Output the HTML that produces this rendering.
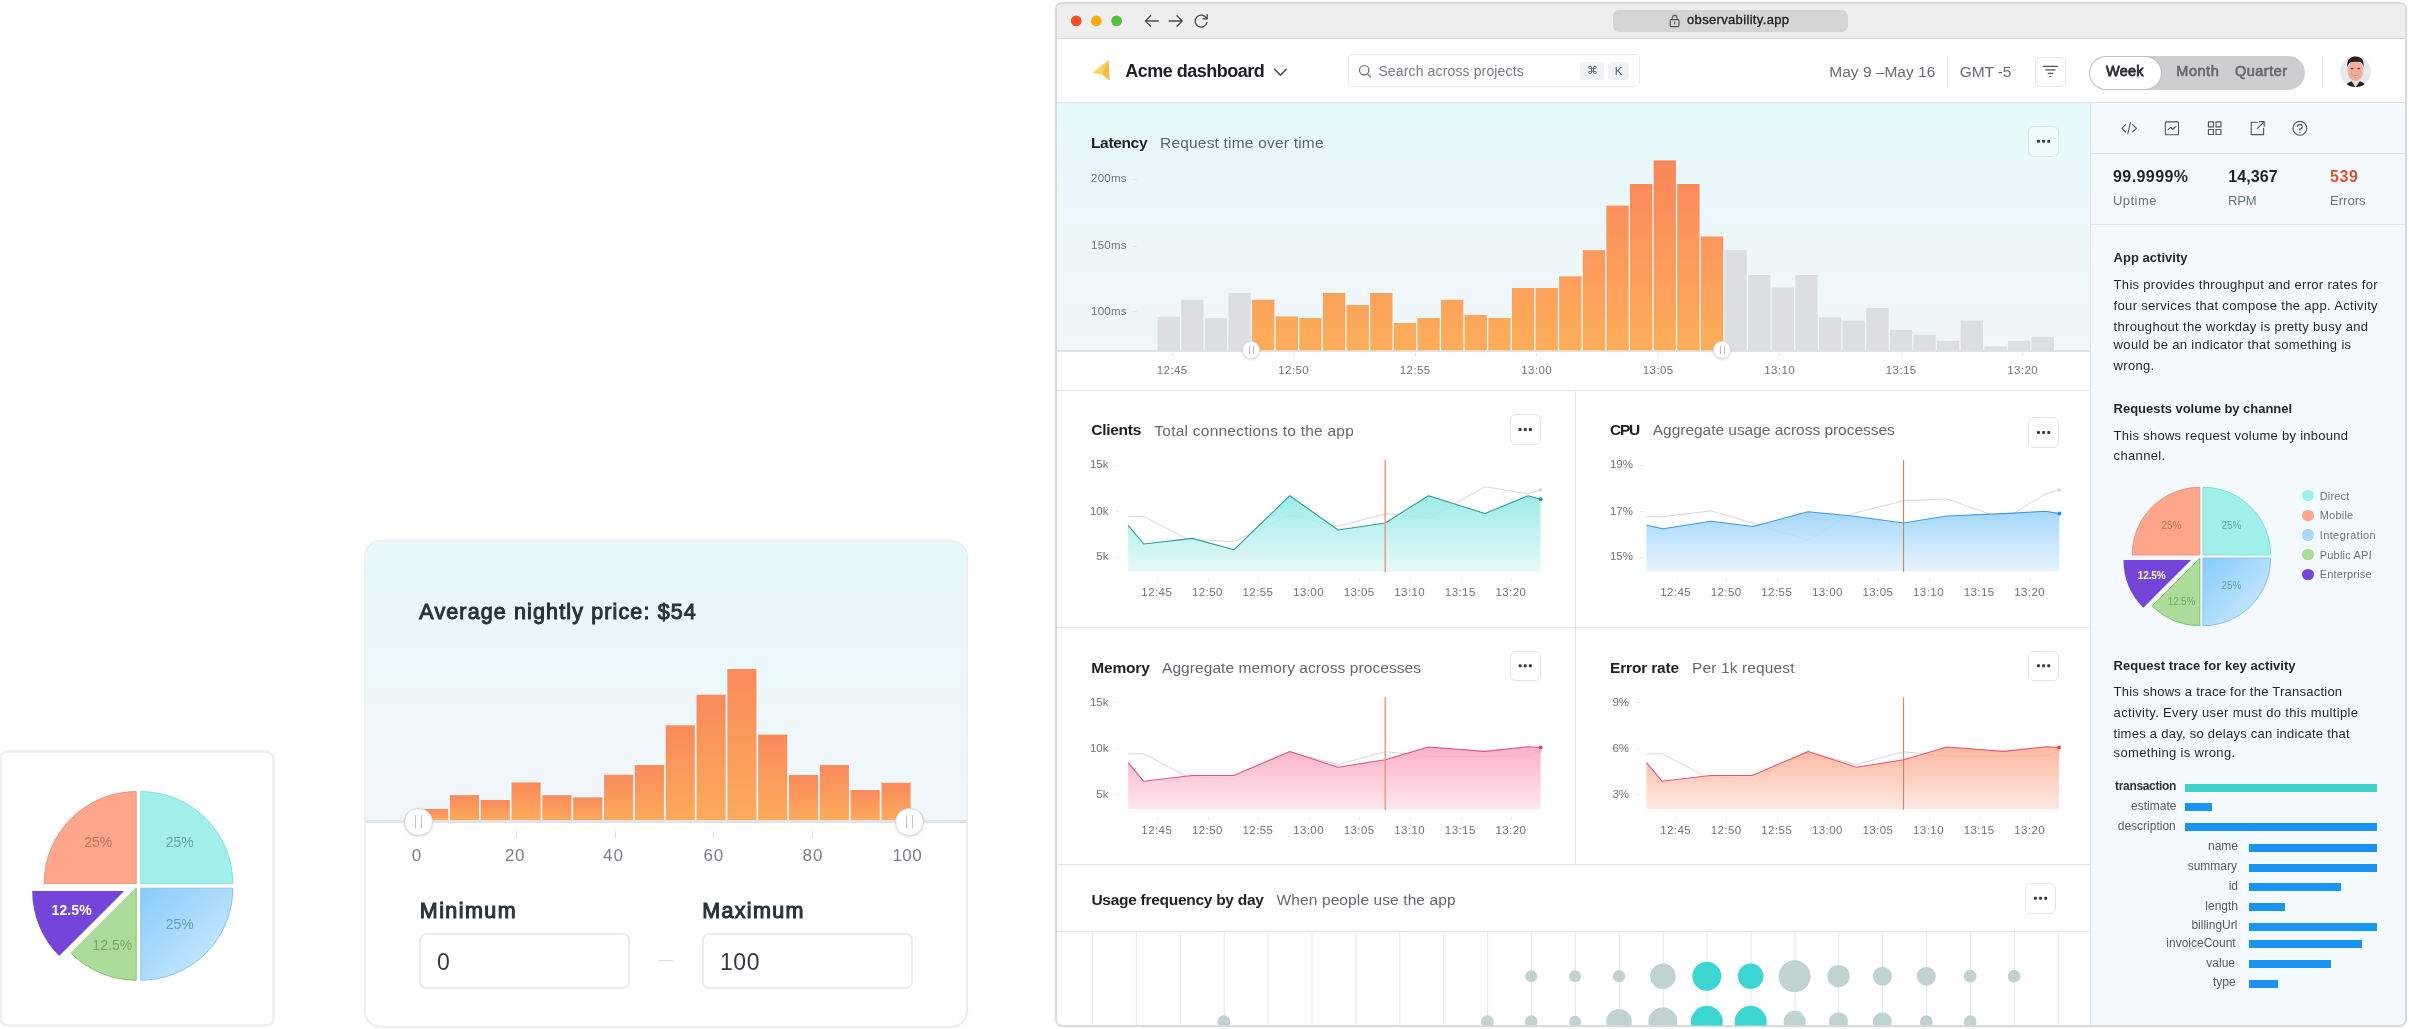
<!DOCTYPE html>
<html lang="en"><head><meta charset="utf-8"><title>Observability dashboard</title>
<style>
html,body{margin:0;padding:0;background:#fff;}
body{width:2409px;height:1029px;position:relative;overflow:hidden;font-family:"Liberation Sans",sans-serif;}
#root{position:absolute;left:0;top:0;width:2409px;height:1029px;will-change:transform;}
.t{position:absolute;white-space:nowrap;}
.b{position:absolute;box-sizing:border-box;}
svg{position:absolute;left:0;top:0;overflow:visible;}
</style></head><body><div id="root">
<div class="b" style="left:-1.00px;top:750.00px;width:276.00px;height:276.50px;border:3px solid #f0f0f0;border-radius:9px;background:#fff;"></div>
<svg width="2409" height="1029" viewBox="0 0 2409 1029">
<defs><linearGradient id="p1bl" x1="0" y1="0" x2="1" y2="1"><stop offset="0" stop-color="#86ccfb"/><stop offset="1" stop-color="#d6edfd"/></linearGradient></defs>
<path d="M136.20,883.60 L44.20,883.60 A92,92 0 0 1 136.20,791.60 Z" fill="#fda68b" stroke="#ea957b" stroke-width="1"/>
<path d="M140.80,883.60 L140.80,791.60 A92,92 0 0 1 232.80,883.60 Z" fill="#a1efea" stroke="#86ded8" stroke-width="1"/>
<path d="M140.80,888.20 L232.80,888.20 A92,92 0 0 1 140.80,980.20 Z" fill="url(#p1bl)" stroke="#86c3ec" stroke-width="1"/>
<path d="M136.20,888.20 L136.20,980.20 A92,92 0 0 1 71.15,953.25 Z" fill="#acdc9a" stroke="#83c56e" stroke-width="1"/>
<path d="M124.20,891.00 L59.15,956.05 A92,92 0 0 1 32.20,891.00 Z" fill="#7445d8"/>
</svg>
<div class="t" style="left:84.29px;top:834px;font-size:14px;line-height:16px;color:#c5745d;">25%</div>
<div class="t" style="left:165.69px;top:834px;font-size:14px;line-height:16px;color:#5fa9a7;">25%</div>
<div class="t" style="left:165.69px;top:916px;font-size:14px;line-height:16px;color:#6b9cbb;">25%</div>
<div class="t" style="left:51.60px;top:902px;font-size:14px;line-height:16px;font-weight:700;color:#ffffff;letter-spacing:0.076px;">12.5%</div>
<div class="t" style="left:92.30px;top:937px;font-size:14px;line-height:16px;color:#79a866;letter-spacing:0.076px;">12.5%</div>
<div class="b" style="left:364.00px;top:540.00px;width:604.00px;height:487.50px;border:2px solid #eeeeee;border-radius:17px;background:#fff;overflow:hidden;box-shadow:0 0 2px rgba(0,0,0,.05);"></div>
<div class="b" style="left:366.00px;top:542.00px;width:600.00px;height:279.00px;border-radius:15px 15px 0 0;background:linear-gradient(180deg,#e6f9fc 0%,#ecf8fb 40%,#f1f6f9 100%);"></div>
<svg width="2409" height="1029" viewBox="0 0 2409 1029"><defs><linearGradient id="og" x1="0" y1="0" x2="0" y2="1"><stop offset="0" stop-color="#f98a5c"/><stop offset="1" stop-color="#fdab5b"/></linearGradient><linearGradient id="og2" gradientUnits="userSpaceOnUse" x1="0" y1="660" x2="0" y2="822"><stop offset="0" stop-color="#f98a5e"/><stop offset="1" stop-color="#fdac5c"/></linearGradient></defs>
<rect x="419.05" y="809.00" width="29.08" height="12.00" fill="url(#og)"/>
<rect x="449.88" y="795.20" width="29.08" height="25.80" fill="url(#og)"/>
<rect x="480.71" y="800.00" width="29.08" height="21.00" fill="url(#og)"/>
<rect x="511.54" y="782.50" width="29.08" height="38.50" fill="url(#og)"/>
<rect x="542.37" y="795.20" width="29.08" height="25.80" fill="url(#og)"/>
<rect x="573.20" y="797.40" width="29.08" height="23.60" fill="url(#og)"/>
<rect x="604.03" y="774.80" width="29.08" height="46.20" fill="url(#og)"/>
<rect x="634.86" y="765.10" width="29.08" height="55.90" fill="url(#og)"/>
<rect x="665.69" y="725.30" width="29.08" height="95.70" fill="url(#og)"/>
<rect x="696.52" y="694.70" width="29.08" height="126.30" fill="url(#og)"/>
<rect x="727.35" y="669.00" width="29.08" height="152.00" fill="url(#og)"/>
<rect x="758.18" y="734.60" width="29.08" height="86.40" fill="url(#og)"/>
<rect x="789.01" y="775.00" width="29.08" height="46.00" fill="url(#og)"/>
<rect x="819.84" y="765.10" width="29.08" height="55.90" fill="url(#og)"/>
<rect x="850.67" y="790.00" width="29.08" height="31.00" fill="url(#og)"/>
<rect x="881.50" y="782.80" width="29.08" height="38.20" fill="url(#og)"/>
</svg>
<div class="b" style="left:366.00px;top:820.00px;width:600.00px;height:3.00px;background:#e1e4e7;"></div>
<div class="b" style="left:515.90px;top:831.00px;width:1.20px;height:7.00px;background:#dcdfe2;"></div>
<div class="b" style="left:614.80px;top:831.00px;width:1.20px;height:7.00px;background:#dcdfe2;"></div>
<div class="b" style="left:713.10px;top:831.00px;width:1.20px;height:7.00px;background:#dcdfe2;"></div>
<div class="b" style="left:812.10px;top:831.00px;width:1.20px;height:7.00px;background:#dcdfe2;"></div>
<div class="t" style="left:411.67px;top:846px;font-size:17px;line-height:19px;color:#7b8084;">0</div>
<div class="t" style="left:504.90px;top:846px;font-size:17px;line-height:19px;color:#7b8084;letter-spacing:0.690px;">20</div>
<div class="t" style="left:603.10px;top:846px;font-size:17px;line-height:19px;color:#7b8084;letter-spacing:0.890px;">40</div>
<div class="t" style="left:703.50px;top:846px;font-size:17px;line-height:19px;color:#7b8084;letter-spacing:0.890px;">60</div>
<div class="t" style="left:802.60px;top:846px;font-size:17px;line-height:19px;color:#7b8084;letter-spacing:0.890px;">80</div>
<div class="t" style="left:892.40px;top:846px;font-size:17px;line-height:19px;color:#7b8084;letter-spacing:0.418px;">100</div>
<div class="b" style="left:404.30px;top:807.50px;width:28.40px;height:28.40px;border-radius:50%;background:#fff;border:1.4px solid #d4d7d9;box-shadow:0 1px 3px rgba(0,0,0,.12);"></div>
<div class="b" style="left:415.10px;top:815.40px;width:1.40px;height:12.60px;background:#bfc3c6;"></div>
<div class="b" style="left:420.50px;top:815.40px;width:1.40px;height:12.60px;background:#bfc3c6;"></div>
<div class="b" style="left:895.30px;top:807.50px;width:28.40px;height:28.40px;border-radius:50%;background:#fff;border:1.4px solid #d4d7d9;box-shadow:0 1px 3px rgba(0,0,0,.12);"></div>
<div class="b" style="left:906.10px;top:815.40px;width:1.40px;height:12.60px;background:#bfc3c6;"></div>
<div class="b" style="left:911.50px;top:815.40px;width:1.40px;height:12.60px;background:#bfc3c6;"></div>
<div class="t" style="left:419.30px;top:600px;font-size:21.5px;line-height:24px;-webkit-text-stroke:1.0px #27343b;color:#27343b;letter-spacing:1.132px;">Average nightly price: $54</div>
<div class="t" style="left:419.80px;top:899px;font-size:21.5px;line-height:24px;-webkit-text-stroke:1.05px #27343b;color:#27343b;letter-spacing:1.433px;">Minimum</div>
<div class="t" style="left:702.20px;top:899px;font-size:21.5px;line-height:24px;-webkit-text-stroke:1.05px #27343b;color:#27343b;letter-spacing:1.338px;">Maximum</div>
<div class="b" style="left:419.20px;top:933.00px;width:211.30px;height:56.00px;border:2px solid #ebebeb;border-radius:7px;background:#fff;"></div>
<div class="b" style="left:702.00px;top:933.00px;width:210.60px;height:56.00px;border:2px solid #ebebeb;border-radius:7px;background:#fff;"></div>
<div class="t" style="left:437.10px;top:949px;font-size:23px;line-height:26px;color:#333a3f;">0</div>
<div class="t" style="left:720.00px;top:949px;font-size:23px;line-height:26px;color:#333a3f;letter-spacing:0.562px;">100</div>
<div class="b" style="left:658.00px;top:959.60px;width:15.00px;height:1.40px;background:#dedede;"></div>
<div class="b" id="win" style="left:1055px;top:2px;width:1352px;height:1025px;border:2px solid #d8dadb;border-radius:7px 7px 8px 8px;background:linear-gradient(180deg,#eee 0,#eee 30px,#fff 30px);overflow:hidden;box-shadow:0 0 2px rgba(0,0,0,.08);"></div>
<div class="b" style="left:1057.00px;top:4.00px;width:1348.00px;height:34.50px;background:#eeeeee;border-radius:5px 5px 0 0;border-bottom:1px solid #d4d4d4;"></div>
<svg width="2409" height="1029" viewBox="0 0 2409 1029"><circle cx="1076.2" cy="20.9" r="5.35" fill="#f4511e"/><circle cx="1096.3" cy="20.9" r="5.35" fill="#ffab0f"/><circle cx="1116.6" cy="20.9" r="5.35" fill="#5cbf3a"/></svg>
<svg width="2409" height="1029" viewBox="0 0 2409 1029" fill="none" stroke="#4a4a4a" stroke-width="1.35" stroke-linecap="round" stroke-linejoin="round">
<path d="M1158.3,21 H1145.4 M1150.6,15.8 L1145.4,21 L1150.6,26.2"/>
<path d="M1169.2,21 H1182.2 M1177,15.8 L1182.2,21 L1177,26.2"/>
<path d="M1206.6,18.6 A6,6 0 1 0 1207,22.4"/>
<path d="M1207.2,14.6 V18.9 H1202.9" />
</svg>
<div class="b" style="left:1613.00px;top:10.00px;width:235.00px;height:22.00px;background:#d5d5d5;border-radius:6px;"></div>
<svg width="2409" height="1029" viewBox="0 0 2409 1029" fill="none" stroke="#555" stroke-width="1.1" stroke-linejoin="round">
<rect x="1670.2" y="19.6" width="8.8" height="7" rx="1"/><path d="M1672.2,19.6 v-1.8 a2.4,2.4 0 0 1 4.8,0 v1.8"/><path d="M1674.6,22 v1.8" stroke-linecap="round"/></svg>
<div class="t" style="left:1687.00px;top:12px;font-size:13px;line-height:15px;-webkit-text-stroke:0.35px #222;color:#222;letter-spacing:0.338px;">observability.app</div>
<div class="b" style="left:1057.00px;top:38.50px;width:1348.00px;height:64.00px;background:#fff;border-bottom:1px solid #dfe3e6;"></div>
<svg width="2409" height="1029" viewBox="0 0 2409 1029">
<defs><linearGradient id="lg" x1="0" y1="0" x2="1" y2="1"><stop offset="0" stop-color="#ffd972"/><stop offset="1" stop-color="#fbc552"/></linearGradient></defs>
<path d="M1092.2,72.9 L1108.4,60.1 L1109.6,80.4 L1102,74.3 Z" fill="url(#lg)"/>
<path d="M1102,74.3 L1108.4,60.1 L1109.6,80.4 Z" fill="#f8bd45"/>
<path d="M1274.6,69.3 L1280.4,75.2 L1286.2,69.3" fill="none" stroke="#3c4043" stroke-width="1.4" stroke-linecap="round" stroke-linejoin="round"/>
</svg>
<div class="t" style="left:1125.30px;top:61px;font-size:18px;line-height:20px;font-weight:700;color:#1d2124;letter-spacing:-0.503px;">Acme dashboard</div>
<div class="b" style="left:1347.50px;top:54.00px;width:292.50px;height:33.00px;border:1px solid #e6e9eb;border-radius:5px;background:#fff;"></div>
<svg width="2409" height="1029" viewBox="0 0 2409 1029" fill="none" stroke="#5f676d" stroke-width="1.2" stroke-linecap="round">
<circle cx="1364.2" cy="70.2" r="4.7"/><path d="M1367.7,73.8 L1370.6,76.8"/></svg>
<div class="t" style="left:1378.40px;top:63px;font-size:14px;line-height:16px;color:#757d83;letter-spacing:0.138px;">Search across projects</div>
<div class="b" style="left:1579.80px;top:62.20px;width:24.40px;height:18.00px;background:#eef2f5;border-radius:3px;"></div>
<div class="b" style="left:1608.00px;top:62.20px;width:21.40px;height:18.00px;background:#eef2f5;border-radius:3px;"></div>
<div class="t" style="left:1587.08px;top:65px;font-size:11px;line-height:12px;color:#5f676d;font-family:'DejaVu Sans',sans-serif;">⌘</div>
<div class="t" style="left:1614.86px;top:65px;font-size:11.5px;line-height:12px;color:#5f676d;">K</div>
<div class="t" style="left:1829.30px;top:63px;font-size:15.5px;line-height:17px;color:#676c70;letter-spacing:0.003px;">May 9 –May 16</div>
<div class="b" style="left:1947.00px;top:56.40px;width:1.00px;height:31.40px;background:#e5e6e8;"></div>
<div class="t" style="left:1959.80px;top:63px;font-size:15.5px;line-height:17px;color:#676c70;letter-spacing:-0.149px;">GMT -5</div>
<div class="b" style="left:2035.30px;top:56.50px;width:30.30px;height:30.30px;border:1px solid #e2e5e8;border-radius:5px;background:#fff;"></div>
<svg width="2409" height="1029" viewBox="0 0 2409 1029" fill="none" stroke="#4b5358" stroke-width="1.2" stroke-linecap="round">
<path d="M2043.4,66.4 H2057.4 M2045.8,69.9 H2055 M2048.2,73.4 H2052.6 M2049.9,76.5 H2050.9"/></svg>
<div class="b" style="left:2089.00px;top:55.80px;width:216.30px;height:34.00px;background:#cdcecf;border-radius:17px;"></div>
<div class="b" style="left:2090.00px;top:56.80px;width:70.50px;height:32.00px;background:#fff;border-radius:16px;box-shadow:0 0 2px rgba(0,0,0,.25);"></div>
<div class="t" style="left:2106.05px;top:63px;font-size:14.5px;line-height:16px;-webkit-text-stroke:0.8px #2a2e31;color:#2a2e31;letter-spacing:0.232px;">Week</div>
<div class="t" style="left:2176.25px;top:63px;font-size:14.5px;line-height:16px;-webkit-text-stroke:0.7px #666b6f;color:#666b6f;letter-spacing:0.550px;">Month</div>
<div class="t" style="left:2235.00px;top:63px;font-size:14.5px;line-height:16px;-webkit-text-stroke:0.7px #666b6f;color:#666b6f;letter-spacing:0.474px;">Quarter</div>
<div class="b" style="left:2322.00px;top:56.20px;width:1.00px;height:31.60px;background:#e5e6e8;"></div>
<svg width="2409" height="1029" viewBox="0 0 2409 1029">
<defs><clipPath id="avc"><circle cx="2355.6" cy="71.6" r="15.5"/></clipPath></defs>
<circle cx="2355.6" cy="71.6" r="15.5" fill="#e7e9ef"/>
<g clip-path="url(#avc)">
<path d="M2343,91 C2344,84 2349.5,82 2351.6,81.2 L2355.6,87 L2359.8,81.2 C2362,82 2367.5,84 2368.5,91 Z" fill="#20242c"/>
<path d="M2351.3,79.5 L2355.6,87.6 L2360,79.5 Z" fill="#ead5c6"/>
<ellipse cx="2355.4" cy="71" rx="7.8" ry="10.2" fill="#efb19a"/>
<ellipse cx="2355.4" cy="73.5" rx="5.6" ry="5.2" fill="#f2a894" opacity="0.6"/>
<path d="M2347.4,67.4 C2346.2,58.5 2351.5,56.3 2356,56.5 C2361,56.7 2364.6,59.5 2363.4,67.4 C2362.8,64 2361.8,62.6 2360,62.1 C2356.5,61.4 2352,61.6 2350.2,62.6 C2348.6,63.6 2348,65 2347.4,67.4 Z" fill="#2a1f1b"/>
<ellipse cx="2352" cy="68.6" rx="1.5" ry="0.8" fill="#7a4034"/><ellipse cx="2358.8" cy="68.6" rx="1.5" ry="0.8" fill="#7a4034"/>
<path d="M2351.4,74.6 Q2355.4,80 2359.4,74.6 Q2355.4,75.8 2351.4,74.6 Z" fill="#9a3e38"/>
<path d="M2352.4,75.1 Q2355.4,76.2 2358.4,75.1 L2358,76.2 Q2355.4,77.2 2352.8,76.2 Z" fill="#f7efe9"/>
</g></svg>
<div class="b" style="left:1057.00px;top:102.50px;width:1033.50px;height:248.00px;background:linear-gradient(180deg,#e5f9fc 0%,#ebf8fb 35%,#f0f6f9 100%);"></div>
<div class="b" style="left:1057.00px;top:349.50px;width:1033.50px;height:2.20px;background:#dfe3e6;"></div>
<div class="b" style="left:1057.00px;top:390.00px;width:1033.50px;height:1.00px;background:#e1e4e7;"></div>
<svg width="2409" height="1029" viewBox="0 0 2409 1029"><defs><linearGradient id="lo" gradientUnits="userSpaceOnUse" x1="0" y1="160" x2="0" y2="350"><stop offset="0" stop-color="#fb855c"/><stop offset="1" stop-color="#fdae5a"/></linearGradient></defs>
<rect x="1157.60" y="316.70" width="22.32" height="33.60" fill="#dbdfe2"/>
<rect x="1181.22" y="299.80" width="22.32" height="50.50" fill="#dbdfe2"/>
<rect x="1204.84" y="318.10" width="22.32" height="32.20" fill="#dbdfe2"/>
<rect x="1228.46" y="293.00" width="22.32" height="57.30" fill="#dbdfe2"/>
<rect x="1252.08" y="299.80" width="22.32" height="50.50" fill="url(#lo)"/>
<rect x="1275.70" y="316.40" width="22.32" height="33.90" fill="url(#lo)"/>
<rect x="1299.32" y="318.10" width="22.32" height="32.20" fill="url(#lo)"/>
<rect x="1322.94" y="293.00" width="22.32" height="57.30" fill="url(#lo)"/>
<rect x="1346.56" y="305.00" width="22.32" height="45.30" fill="url(#lo)"/>
<rect x="1370.18" y="293.00" width="22.32" height="57.30" fill="url(#lo)"/>
<rect x="1393.80" y="323.00" width="22.32" height="27.30" fill="url(#lo)"/>
<rect x="1417.42" y="318.00" width="22.32" height="32.30" fill="url(#lo)"/>
<rect x="1441.04" y="299.80" width="22.32" height="50.50" fill="url(#lo)"/>
<rect x="1464.66" y="315.00" width="22.32" height="35.30" fill="url(#lo)"/>
<rect x="1488.28" y="318.00" width="22.32" height="32.30" fill="url(#lo)"/>
<rect x="1511.90" y="288.00" width="22.32" height="62.30" fill="url(#lo)"/>
<rect x="1535.52" y="288.00" width="22.32" height="62.30" fill="url(#lo)"/>
<rect x="1559.14" y="276.40" width="22.32" height="73.90" fill="url(#lo)"/>
<rect x="1582.76" y="250.20" width="22.32" height="100.10" fill="url(#lo)"/>
<rect x="1606.38" y="205.60" width="22.32" height="144.70" fill="url(#lo)"/>
<rect x="1630.00" y="184.00" width="22.32" height="166.30" fill="url(#lo)"/>
<rect x="1653.62" y="160.40" width="22.32" height="189.90" fill="url(#lo)"/>
<rect x="1677.24" y="184.00" width="22.32" height="166.30" fill="url(#lo)"/>
<rect x="1700.86" y="236.50" width="22.32" height="113.80" fill="url(#lo)"/>
<rect x="1724.48" y="250.20" width="22.32" height="100.10" fill="#dbdfe2"/>
<rect x="1748.10" y="275.00" width="22.32" height="75.30" fill="#dbdfe2"/>
<rect x="1771.72" y="287.50" width="22.32" height="62.80" fill="#dbdfe2"/>
<rect x="1795.34" y="275.00" width="22.32" height="75.30" fill="#dbdfe2"/>
<rect x="1818.96" y="317.30" width="22.32" height="33.00" fill="#dbdfe2"/>
<rect x="1842.58" y="320.80" width="22.32" height="29.50" fill="#dbdfe2"/>
<rect x="1866.20" y="308.00" width="22.32" height="42.30" fill="#dbdfe2"/>
<rect x="1889.82" y="329.80" width="22.32" height="20.50" fill="#dbdfe2"/>
<rect x="1913.44" y="334.80" width="22.32" height="15.50" fill="#dbdfe2"/>
<rect x="1937.06" y="340.90" width="22.32" height="9.40" fill="#dbdfe2"/>
<rect x="1960.68" y="320.80" width="22.32" height="29.50" fill="#dbdfe2"/>
<rect x="1984.30" y="346.40" width="22.32" height="3.90" fill="#dbdfe2"/>
<rect x="2007.92" y="340.90" width="22.32" height="9.40" fill="#dbdfe2"/>
<rect x="2031.54" y="337.10" width="22.32" height="13.20" fill="#dbdfe2"/>
</svg>
<div class="b" style="left:1242.40px;top:341.20px;width:18.00px;height:18.00px;border-radius:50%;background:#fff;border:1px solid #dedede;box-shadow:0 1px 2px rgba(0,0,0,.15);"></div>
<div class="b" style="left:1249.10px;top:346.20px;width:1.00px;height:8.00px;background:#b9bcbf;"></div>
<div class="b" style="left:1252.70px;top:346.20px;width:1.00px;height:8.00px;background:#b9bcbf;"></div>
<div class="b" style="left:1713.20px;top:341.20px;width:18.00px;height:18.00px;border-radius:50%;background:#fff;border:1px solid #dedede;box-shadow:0 1px 2px rgba(0,0,0,.15);"></div>
<div class="b" style="left:1719.90px;top:346.20px;width:1.00px;height:8.00px;background:#b9bcbf;"></div>
<div class="b" style="left:1723.50px;top:346.20px;width:1.00px;height:8.00px;background:#b9bcbf;"></div>
<div class="t" style="left:1091.00px;top:134px;font-size:15.5px;line-height:17px;font-weight:700;color:#1d2124;letter-spacing:-0.347px;">Latency</div>
<div class="t" style="left:1160.00px;top:134px;font-size:15.5px;line-height:17px;color:#5d676d;letter-spacing:0.197px;">Request time over time</div>
<div class="t" style="left:1091.00px;top:172px;font-size:11.5px;line-height:12px;color:#6c7378;letter-spacing:0.246px;">200ms</div>
<div class="b" style="left:1133.00px;top:178.50px;width:4.00px;height:1.00px;background:#e2e8ec;"></div>
<div class="t" style="left:1091.00px;top:239px;font-size:11.5px;line-height:12px;color:#6c7378;letter-spacing:0.246px;">150ms</div>
<div class="b" style="left:1133.00px;top:245.50px;width:4.00px;height:1.00px;background:#e2e8ec;"></div>
<div class="t" style="left:1091.00px;top:305px;font-size:11.5px;line-height:12px;color:#6c7378;letter-spacing:0.246px;">100ms</div>
<div class="b" style="left:1133.00px;top:311.30px;width:4.00px;height:1.00px;background:#e2e8ec;"></div>
<div class="t" style="left:1156.75px;top:364px;font-size:11.5px;line-height:12px;color:#6c7378;letter-spacing:0.430px;">12:45</div>
<div class="b" style="left:1171.50px;top:352.50px;width:1.00px;height:3.00px;background:#dde1e4;"></div>
<div class="t" style="left:1278.25px;top:364px;font-size:11.5px;line-height:12px;color:#6c7378;letter-spacing:0.430px;">12:50</div>
<div class="b" style="left:1293.00px;top:352.50px;width:1.00px;height:3.00px;background:#dde1e4;"></div>
<div class="t" style="left:1399.75px;top:364px;font-size:11.5px;line-height:12px;color:#6c7378;letter-spacing:0.430px;">12:55</div>
<div class="b" style="left:1414.50px;top:352.50px;width:1.00px;height:3.00px;background:#dde1e4;"></div>
<div class="t" style="left:1521.25px;top:364px;font-size:11.5px;line-height:12px;color:#6c7378;letter-spacing:0.430px;">13:00</div>
<div class="b" style="left:1536.00px;top:352.50px;width:1.00px;height:3.00px;background:#dde1e4;"></div>
<div class="t" style="left:1642.75px;top:364px;font-size:11.5px;line-height:12px;color:#6c7378;letter-spacing:0.430px;">13:05</div>
<div class="b" style="left:1657.50px;top:352.50px;width:1.00px;height:3.00px;background:#dde1e4;"></div>
<div class="t" style="left:1764.25px;top:364px;font-size:11.5px;line-height:12px;color:#6c7378;letter-spacing:0.430px;">13:10</div>
<div class="b" style="left:1779.00px;top:352.50px;width:1.00px;height:3.00px;background:#dde1e4;"></div>
<div class="t" style="left:1885.75px;top:364px;font-size:11.5px;line-height:12px;color:#6c7378;letter-spacing:0.430px;">13:15</div>
<div class="b" style="left:1900.50px;top:352.50px;width:1.00px;height:3.00px;background:#dde1e4;"></div>
<div class="t" style="left:2007.25px;top:364px;font-size:11.5px;line-height:12px;color:#6c7378;letter-spacing:0.430px;">13:20</div>
<div class="b" style="left:2022.00px;top:352.50px;width:1.00px;height:3.00px;background:#dde1e4;"></div>
<div class="b" style="left:2028.20px;top:126.00px;width:30.80px;height:30.50px;border:1px solid #e0e4e7;border-radius:6px;background:rgba(255,255,255,.35);"></div>
<svg width="2409" height="1029" viewBox="0 0 2409 1029" fill="#353c40"><rect x="2036.95" y="139.75" width="3" height="3" rx="0.9"/><rect x="2042.10" y="139.75" width="3" height="3" rx="0.9"/><rect x="2047.25" y="139.75" width="3" height="3" rx="0.9"/></svg>
<div class="b" style="left:1575.00px;top:390.00px;width:1.00px;height:474.00px;background:#e1e4e7;"></div>
<div class="b" style="left:1057.00px;top:627.00px;width:1033.50px;height:1.00px;background:#e1e4e7;"></div>
<div class="b" style="left:1057.00px;top:864.00px;width:1033.50px;height:1.00px;background:#e1e4e7;"></div>
<svg width="2409" height="1029" viewBox="0 0 2409 1029"><defs><linearGradient id="gcl" gradientUnits="userSpaceOnUse" x1="0" y1="497.7" x2="0" y2="571.5"><stop offset="0" stop-color="#8fe9e5"/><stop offset="1" stop-color="#e2f8f8"/></linearGradient></defs>
<polyline points="1128.1,516.4 1143.8,516.4 1187.6,539.3 1233.8,541.6 1289.8,514.8 1338.1,526.5 1385.2,513.6 1428.4,518.3 1485.0,486.8 1528.2,493.8 1540.6,489.8" fill="none" stroke="#d3d6d8" stroke-width="1"/>
<circle cx="1540.6" cy="489.8" r="1.6" fill="#d0d4d6"/>
<polygon points="1128.1,571.5 1128.1,525.3 1143.8,544.0 1192.3,538.4 1233.8,549.8 1289.8,495.7 1338.1,530.0 1385.2,523.0 1428.4,495.7 1485.0,513.6 1528.2,495.7 1540.6,499.2 1540.6,571.5" fill="url(#gcl)" fill-opacity="0.86"/>
<polyline points="1128.1,525.3 1143.8,544.0 1192.3,538.4 1233.8,549.8 1289.8,495.7 1338.1,530.0 1385.2,523.0 1428.4,495.7 1485.0,513.6 1528.2,495.7 1540.6,499.2" fill="none" stroke="#2f9d96" stroke-width="1.1" stroke-linejoin="round"/>
<circle cx="1540.6" cy="499.2" r="2" fill="#1f9a92"/>
<path d="M1385.2,460 V572.0" stroke="#ee9573" stroke-width="1.4"/>
</svg>
<svg width="2409" height="1029" viewBox="0 0 2409 1029"><defs><linearGradient id="gcpu" gradientUnits="userSpaceOnUse" x1="0" y1="513.3" x2="0" y2="571.5"><stop offset="0" stop-color="#98d2fa"/><stop offset="1" stop-color="#e3f2fe"/></linearGradient></defs>
<polyline points="1646.5,516.7 1663.3,516.7 1711.1,510.8 1753.1,523.4 1807.9,540.0 1852.2,513.6 1903.6,500.8 1946.7,498.9 2003.9,519.0 2045.9,493.8 2059.4,489.8" fill="none" stroke="#d3d6d8" stroke-width="1"/>
<circle cx="2059.4" cy="489.8" r="1.6" fill="#d0d4d6"/>
<polygon points="1646.5,571.5 1646.5,525.3 1663.3,528.8 1711.1,521.3 1753.1,526.5 1807.9,511.8 1852.2,516.0 1903.6,523.0 1946.7,516.0 2003.9,513.6 2045.9,511.3 2059.4,513.6 2059.4,571.5" fill="url(#gcpu)" fill-opacity="0.86"/>
<polyline points="1646.5,525.3 1663.3,528.8 1711.1,521.3 1753.1,526.5 1807.9,511.8 1852.2,516.0 1903.6,523.0 1946.7,516.0 2003.9,513.6 2045.9,511.3 2059.4,513.6" fill="none" stroke="#3a9be6" stroke-width="1.1" stroke-linejoin="round"/>
<circle cx="2059.4" cy="513.6" r="2" fill="#1f8fe8"/>
<path d="M1903.6,460 V572.0" stroke="#cf7a4c" stroke-width="1.0"/>
</svg>
<svg width="2409" height="1029" viewBox="0 0 2409 1029"><defs><linearGradient id="gmem" gradientUnits="userSpaceOnUse" x1="0" y1="748.8" x2="0" y2="809.3"><stop offset="0" stop-color="#fba5be"/><stop offset="1" stop-color="#fde4ea"/></linearGradient></defs>
<polyline points="1128.1,753.8 1143.8,753.8 1187.6,776.6 1233.8,778.5 1289.8,752.1 1338.1,764.5 1385.2,751.7 1428.4,756.3 1485.0,756.3 1528.2,755.6 1540.6,751.0" fill="none" stroke="#d3d6d8" stroke-width="1"/>
<circle cx="1540.6" cy="751.0" r="1.6" fill="#d0d4d6"/>
<polygon points="1128.1,809.3 1128.1,762.6 1143.8,781.3 1192.3,775.5 1233.8,775.5 1289.8,751.4 1338.1,767.3 1385.2,759.8 1428.4,747.0 1485.0,751.4 1528.2,746.8 1540.6,747.5 1540.6,809.3" fill="url(#gmem)" fill-opacity="0.86"/>
<polyline points="1128.1,762.6 1143.8,781.3 1192.3,775.5 1233.8,775.5 1289.8,751.4 1338.1,767.3 1385.2,759.8 1428.4,747.0 1485.0,751.4 1528.2,746.8 1540.6,747.5" fill="none" stroke="#e2557f" stroke-width="1.1" stroke-linejoin="round"/>
<circle cx="1540.6" cy="747.5" r="2" fill="#e63d78"/>
<path d="M1385.2,697.3 V809.8" stroke="#ee9573" stroke-width="1.4"/>
</svg>
<svg width="2409" height="1029" viewBox="0 0 2409 1029"><defs><linearGradient id="gerr" gradientUnits="userSpaceOnUse" x1="0" y1="748.8" x2="0" y2="809.3"><stop offset="0" stop-color="#fbad94"/><stop offset="1" stop-color="#fee5dc"/></linearGradient></defs>
<polyline points="1646.5,753.8 1662.2,753.8 1706.0,776.6 1752.2,778.5 1808.2,752.1 1856.5,764.5 1903.6,751.7 1946.8,756.3 2003.4,756.3 2046.6,755.6 2059.0,751.0" fill="none" stroke="#d3d6d8" stroke-width="1"/>
<circle cx="2059.0" cy="751.0" r="1.6" fill="#d0d4d6"/>
<polygon points="1646.5,809.3 1646.5,762.6 1662.2,781.3 1710.7,775.5 1752.2,775.5 1808.2,751.4 1856.5,767.3 1903.6,759.8 1946.8,747.0 2003.4,751.4 2046.6,746.8 2059.0,747.5 2059.0,809.3" fill="url(#gerr)" fill-opacity="0.86"/>
<polyline points="1646.5,762.6 1662.2,781.3 1710.7,775.5 1752.2,775.5 1808.2,751.4 1856.5,767.3 1903.6,759.8 1946.8,747.0 2003.4,751.4 2046.6,746.8 2059.0,747.5" fill="none" stroke="#e8566f" stroke-width="1.1" stroke-linejoin="round"/>
<circle cx="2059.0" cy="747.5" r="2" fill="#e8432f"/>
<path d="M1903.6,697.3 V809.8" stroke="#cf7a4c" stroke-width="1.0"/>
</svg>
<div class="t" style="left:1091.30px;top:421px;font-size:15.5px;line-height:17px;font-weight:700;color:#1d2124;letter-spacing:-0.280px;">Clients</div>
<div class="t" style="left:1154.30px;top:422px;font-size:15.5px;line-height:17px;color:#63696e;letter-spacing:0.240px;">Total connections to the app</div>
<div class="t" style="left:1610.10px;top:421px;font-size:15.5px;line-height:17px;font-weight:700;color:#1d2124;letter-spacing:-1.363px;">CPU</div>
<div class="t" style="left:1652.80px;top:421px;font-size:15.5px;line-height:17px;color:#63696e;letter-spacing:-0.032px;">Aggregate usage across processes</div>
<div class="t" style="left:1091.30px;top:659px;font-size:15.5px;line-height:17px;font-weight:700;color:#1d2124;letter-spacing:-0.187px;">Memory</div>
<div class="t" style="left:1162.00px;top:659px;font-size:15.5px;line-height:17px;color:#63696e;letter-spacing:0.071px;">Aggregate memory across processes</div>
<div class="t" style="left:1610.10px;top:659px;font-size:15.5px;line-height:17px;font-weight:700;color:#1d2124;letter-spacing:-0.183px;">Error rate</div>
<div class="t" style="left:1692.00px;top:659px;font-size:15.5px;line-height:17px;color:#63696e;letter-spacing:0.130px;">Per 1k request</div>
<div class="b" style="left:1510.00px;top:414.30px;width:30.50px;height:30.50px;border:1px solid #e0e4e7;border-radius:6px;background:#fff;"></div>
<svg width="2409" height="1029" viewBox="0 0 2409 1029" fill="#353c40"><rect x="1518.60" y="428.05" width="3" height="3" rx="0.9"/><rect x="1523.75" y="428.05" width="3" height="3" rx="0.9"/><rect x="1528.90" y="428.05" width="3" height="3" rx="0.9"/></svg>
<div class="b" style="left:2028.20px;top:417.20px;width:30.80px;height:30.50px;border:1px solid #e0e4e7;border-radius:6px;background:#fff;"></div>
<svg width="2409" height="1029" viewBox="0 0 2409 1029" fill="#353c40"><rect x="2036.95" y="430.95" width="3" height="3" rx="0.9"/><rect x="2042.10" y="430.95" width="3" height="3" rx="0.9"/><rect x="2047.25" y="430.95" width="3" height="3" rx="0.9"/></svg>
<div class="b" style="left:1510.00px;top:650.50px;width:30.50px;height:30.50px;border:1px solid #e0e4e7;border-radius:6px;background:#fff;"></div>
<svg width="2409" height="1029" viewBox="0 0 2409 1029" fill="#353c40"><rect x="1518.60" y="664.25" width="3" height="3" rx="0.9"/><rect x="1523.75" y="664.25" width="3" height="3" rx="0.9"/><rect x="1528.90" y="664.25" width="3" height="3" rx="0.9"/></svg>
<div class="b" style="left:2028.20px;top:650.50px;width:30.80px;height:30.50px;border:1px solid #e0e4e7;border-radius:6px;background:#fff;"></div>
<svg width="2409" height="1029" viewBox="0 0 2409 1029" fill="#353c40"><rect x="2036.95" y="664.25" width="3" height="3" rx="0.9"/><rect x="2042.10" y="664.25" width="3" height="3" rx="0.9"/><rect x="2047.25" y="664.25" width="3" height="3" rx="0.9"/></svg>
<div class="t" style="left:1089.96px;top:458px;font-size:11.5px;line-height:12px;color:#6c7378;">15k</div>
<div class="b" style="left:1115.50px;top:464.70px;width:3.50px;height:1.00px;background:#e6eaed;"></div>
<div class="t" style="left:1089.96px;top:505px;font-size:11.5px;line-height:12px;color:#6c7378;">10k</div>
<div class="b" style="left:1115.50px;top:511.10px;width:3.50px;height:1.00px;background:#e6eaed;"></div>
<div class="t" style="left:1096.35px;top:550px;font-size:11.5px;line-height:12px;color:#6c7378;">5k</div>
<div class="b" style="left:1115.50px;top:556.80px;width:3.50px;height:1.00px;background:#e6eaed;"></div>
<div class="t" style="left:1141.35px;top:586px;font-size:11.5px;line-height:12px;color:#6c7378;letter-spacing:0.430px;">12:45</div>
<div class="b" style="left:1157.10px;top:578.70px;width:1.00px;height:3.00px;background:#e6eaed;"></div>
<div class="t" style="left:1191.93px;top:586px;font-size:11.5px;line-height:12px;color:#6c7378;letter-spacing:0.430px;">12:50</div>
<div class="b" style="left:1207.68px;top:578.70px;width:1.00px;height:3.00px;background:#e6eaed;"></div>
<div class="t" style="left:1242.51px;top:586px;font-size:11.5px;line-height:12px;color:#6c7378;letter-spacing:0.430px;">12:55</div>
<div class="b" style="left:1258.26px;top:578.70px;width:1.00px;height:3.00px;background:#e6eaed;"></div>
<div class="t" style="left:1293.09px;top:586px;font-size:11.5px;line-height:12px;color:#6c7378;letter-spacing:0.430px;">13:00</div>
<div class="b" style="left:1308.84px;top:578.70px;width:1.00px;height:3.00px;background:#e6eaed;"></div>
<div class="t" style="left:1343.67px;top:586px;font-size:11.5px;line-height:12px;color:#6c7378;letter-spacing:0.430px;">13:05</div>
<div class="b" style="left:1359.42px;top:578.70px;width:1.00px;height:3.00px;background:#e6eaed;"></div>
<div class="t" style="left:1394.25px;top:586px;font-size:11.5px;line-height:12px;color:#6c7378;letter-spacing:0.430px;">13:10</div>
<div class="b" style="left:1410.00px;top:578.70px;width:1.00px;height:3.00px;background:#e6eaed;"></div>
<div class="t" style="left:1444.83px;top:586px;font-size:11.5px;line-height:12px;color:#6c7378;letter-spacing:0.430px;">13:15</div>
<div class="b" style="left:1460.58px;top:578.70px;width:1.00px;height:3.00px;background:#e6eaed;"></div>
<div class="t" style="left:1495.41px;top:586px;font-size:11.5px;line-height:12px;color:#6c7378;letter-spacing:0.430px;">13:20</div>
<div class="b" style="left:1511.16px;top:578.70px;width:1.00px;height:3.00px;background:#e6eaed;"></div>
<div class="t" style="left:1609.98px;top:458px;font-size:11.5px;line-height:12px;color:#6c7378;">19%</div>
<div class="b" style="left:1640.00px;top:464.70px;width:3.50px;height:1.00px;background:#e6eaed;"></div>
<div class="t" style="left:1609.98px;top:505px;font-size:11.5px;line-height:12px;color:#6c7378;">17%</div>
<div class="b" style="left:1640.00px;top:511.10px;width:3.50px;height:1.00px;background:#e6eaed;"></div>
<div class="t" style="left:1609.98px;top:550px;font-size:11.5px;line-height:12px;color:#6c7378;">15%</div>
<div class="b" style="left:1640.00px;top:556.80px;width:3.50px;height:1.00px;background:#e6eaed;"></div>
<div class="t" style="left:1660.15px;top:586px;font-size:11.5px;line-height:12px;color:#6c7378;letter-spacing:0.430px;">12:45</div>
<div class="b" style="left:1675.90px;top:578.70px;width:1.00px;height:3.00px;background:#e6eaed;"></div>
<div class="t" style="left:1710.73px;top:586px;font-size:11.5px;line-height:12px;color:#6c7378;letter-spacing:0.430px;">12:50</div>
<div class="b" style="left:1726.48px;top:578.70px;width:1.00px;height:3.00px;background:#e6eaed;"></div>
<div class="t" style="left:1761.31px;top:586px;font-size:11.5px;line-height:12px;color:#6c7378;letter-spacing:0.430px;">12:55</div>
<div class="b" style="left:1777.06px;top:578.70px;width:1.00px;height:3.00px;background:#e6eaed;"></div>
<div class="t" style="left:1811.89px;top:586px;font-size:11.5px;line-height:12px;color:#6c7378;letter-spacing:0.430px;">13:00</div>
<div class="b" style="left:1827.64px;top:578.70px;width:1.00px;height:3.00px;background:#e6eaed;"></div>
<div class="t" style="left:1862.47px;top:586px;font-size:11.5px;line-height:12px;color:#6c7378;letter-spacing:0.430px;">13:05</div>
<div class="b" style="left:1878.22px;top:578.70px;width:1.00px;height:3.00px;background:#e6eaed;"></div>
<div class="t" style="left:1913.05px;top:586px;font-size:11.5px;line-height:12px;color:#6c7378;letter-spacing:0.430px;">13:10</div>
<div class="b" style="left:1928.80px;top:578.70px;width:1.00px;height:3.00px;background:#e6eaed;"></div>
<div class="t" style="left:1963.63px;top:586px;font-size:11.5px;line-height:12px;color:#6c7378;letter-spacing:0.430px;">13:15</div>
<div class="b" style="left:1979.38px;top:578.70px;width:1.00px;height:3.00px;background:#e6eaed;"></div>
<div class="t" style="left:2014.21px;top:586px;font-size:11.5px;line-height:12px;color:#6c7378;letter-spacing:0.430px;">13:20</div>
<div class="b" style="left:2029.96px;top:578.70px;width:1.00px;height:3.00px;background:#e6eaed;"></div>
<div class="t" style="left:1089.96px;top:696px;font-size:11.5px;line-height:12px;color:#6c7378;">15k</div>
<div class="b" style="left:1115.50px;top:702.00px;width:3.50px;height:1.00px;background:#e6eaed;"></div>
<div class="t" style="left:1089.96px;top:742px;font-size:11.5px;line-height:12px;color:#6c7378;">10k</div>
<div class="b" style="left:1115.50px;top:748.40px;width:3.50px;height:1.00px;background:#e6eaed;"></div>
<div class="t" style="left:1096.35px;top:788px;font-size:11.5px;line-height:12px;color:#6c7378;">5k</div>
<div class="b" style="left:1115.50px;top:793.90px;width:3.50px;height:1.00px;background:#e6eaed;"></div>
<div class="t" style="left:1141.35px;top:824px;font-size:11.5px;line-height:12px;color:#6c7378;letter-spacing:0.430px;">12:45</div>
<div class="b" style="left:1157.10px;top:816.80px;width:1.00px;height:3.00px;background:#e6eaed;"></div>
<div class="t" style="left:1191.93px;top:824px;font-size:11.5px;line-height:12px;color:#6c7378;letter-spacing:0.430px;">12:50</div>
<div class="b" style="left:1207.68px;top:816.80px;width:1.00px;height:3.00px;background:#e6eaed;"></div>
<div class="t" style="left:1242.51px;top:824px;font-size:11.5px;line-height:12px;color:#6c7378;letter-spacing:0.430px;">12:55</div>
<div class="b" style="left:1258.26px;top:816.80px;width:1.00px;height:3.00px;background:#e6eaed;"></div>
<div class="t" style="left:1293.09px;top:824px;font-size:11.5px;line-height:12px;color:#6c7378;letter-spacing:0.430px;">13:00</div>
<div class="b" style="left:1308.84px;top:816.80px;width:1.00px;height:3.00px;background:#e6eaed;"></div>
<div class="t" style="left:1343.67px;top:824px;font-size:11.5px;line-height:12px;color:#6c7378;letter-spacing:0.430px;">13:05</div>
<div class="b" style="left:1359.42px;top:816.80px;width:1.00px;height:3.00px;background:#e6eaed;"></div>
<div class="t" style="left:1394.25px;top:824px;font-size:11.5px;line-height:12px;color:#6c7378;letter-spacing:0.430px;">13:10</div>
<div class="b" style="left:1410.00px;top:816.80px;width:1.00px;height:3.00px;background:#e6eaed;"></div>
<div class="t" style="left:1444.83px;top:824px;font-size:11.5px;line-height:12px;color:#6c7378;letter-spacing:0.430px;">13:15</div>
<div class="b" style="left:1460.58px;top:816.80px;width:1.00px;height:3.00px;background:#e6eaed;"></div>
<div class="t" style="left:1495.41px;top:824px;font-size:11.5px;line-height:12px;color:#6c7378;letter-spacing:0.430px;">13:20</div>
<div class="b" style="left:1511.16px;top:816.80px;width:1.00px;height:3.00px;background:#e6eaed;"></div>
<div class="t" style="left:1612.38px;top:696px;font-size:11.5px;line-height:12px;color:#6c7378;">9%</div>
<div class="b" style="left:1636.00px;top:702.00px;width:3.50px;height:1.00px;background:#e6eaed;"></div>
<div class="t" style="left:1612.38px;top:742px;font-size:11.5px;line-height:12px;color:#6c7378;">6%</div>
<div class="b" style="left:1636.00px;top:748.40px;width:3.50px;height:1.00px;background:#e6eaed;"></div>
<div class="t" style="left:1612.38px;top:788px;font-size:11.5px;line-height:12px;color:#6c7378;">3%</div>
<div class="b" style="left:1636.00px;top:793.90px;width:3.50px;height:1.00px;background:#e6eaed;"></div>
<div class="t" style="left:1660.15px;top:824px;font-size:11.5px;line-height:12px;color:#6c7378;letter-spacing:0.430px;">12:45</div>
<div class="b" style="left:1675.90px;top:816.80px;width:1.00px;height:3.00px;background:#e6eaed;"></div>
<div class="t" style="left:1710.73px;top:824px;font-size:11.5px;line-height:12px;color:#6c7378;letter-spacing:0.430px;">12:50</div>
<div class="b" style="left:1726.48px;top:816.80px;width:1.00px;height:3.00px;background:#e6eaed;"></div>
<div class="t" style="left:1761.31px;top:824px;font-size:11.5px;line-height:12px;color:#6c7378;letter-spacing:0.430px;">12:55</div>
<div class="b" style="left:1777.06px;top:816.80px;width:1.00px;height:3.00px;background:#e6eaed;"></div>
<div class="t" style="left:1811.89px;top:824px;font-size:11.5px;line-height:12px;color:#6c7378;letter-spacing:0.430px;">13:00</div>
<div class="b" style="left:1827.64px;top:816.80px;width:1.00px;height:3.00px;background:#e6eaed;"></div>
<div class="t" style="left:1862.47px;top:824px;font-size:11.5px;line-height:12px;color:#6c7378;letter-spacing:0.430px;">13:05</div>
<div class="b" style="left:1878.22px;top:816.80px;width:1.00px;height:3.00px;background:#e6eaed;"></div>
<div class="t" style="left:1913.05px;top:824px;font-size:11.5px;line-height:12px;color:#6c7378;letter-spacing:0.430px;">13:10</div>
<div class="b" style="left:1928.80px;top:816.80px;width:1.00px;height:3.00px;background:#e6eaed;"></div>
<div class="t" style="left:1963.63px;top:824px;font-size:11.5px;line-height:12px;color:#6c7378;letter-spacing:0.430px;">13:15</div>
<div class="b" style="left:1979.38px;top:816.80px;width:1.00px;height:3.00px;background:#e6eaed;"></div>
<div class="t" style="left:2014.21px;top:824px;font-size:11.5px;line-height:12px;color:#6c7378;letter-spacing:0.430px;">13:20</div>
<div class="b" style="left:2029.96px;top:816.80px;width:1.00px;height:3.00px;background:#e6eaed;"></div>
<div class="t" style="left:1091.40px;top:891px;font-size:15.5px;line-height:17px;font-weight:700;color:#1d2124;letter-spacing:-0.277px;">Usage frequency by day</div>
<div class="t" style="left:1276.60px;top:891px;font-size:15.5px;line-height:17px;color:#63696e;letter-spacing:0.106px;">When people use the app</div>
<div class="b" style="left:2025.30px;top:883.00px;width:30.50px;height:30.50px;border:1px solid #e0e4e7;border-radius:6px;background:#fff;"></div>
<svg width="2409" height="1029" viewBox="0 0 2409 1029" fill="#353c40"><rect x="2033.90" y="896.75" width="3" height="3" rx="0.9"/><rect x="2039.05" y="896.75" width="3" height="3" rx="0.9"/><rect x="2044.20" y="896.75" width="3" height="3" rx="0.9"/></svg>
<div class="b" style="left:1057.00px;top:931.00px;width:1033.50px;height:1.00px;background:#e1e4e7;"></div>
<svg width="2409" height="1029" viewBox="0 0 2409 1029">
<path d="M1092.50,932 V1026" stroke="#e4e7e9" stroke-width="1"/>
<path d="M1136.40,932 V1026" stroke="#e4e7e9" stroke-width="1"/>
<path d="M1180.30,932 V1026" stroke="#e4e7e9" stroke-width="1"/>
<path d="M1224.20,932 V1026" stroke="#e4e7e9" stroke-width="1"/>
<path d="M1268.10,932 V1026" stroke="#e4e7e9" stroke-width="1"/>
<path d="M1312.00,932 V1026" stroke="#e4e7e9" stroke-width="1"/>
<path d="M1355.90,932 V1026" stroke="#e4e7e9" stroke-width="1"/>
<path d="M1399.80,932 V1026" stroke="#e4e7e9" stroke-width="1"/>
<path d="M1443.70,932 V1026" stroke="#e4e7e9" stroke-width="1"/>
<path d="M1487.60,932 V1026" stroke="#e4e7e9" stroke-width="1"/>
<path d="M1531.50,932 V1026" stroke="#e4e7e9" stroke-width="1"/>
<path d="M1575.40,932 V1026" stroke="#e4e7e9" stroke-width="1"/>
<path d="M1619.30,932 V1026" stroke="#e4e7e9" stroke-width="1"/>
<path d="M1663.20,932 V1026" stroke="#e4e7e9" stroke-width="1"/>
<path d="M1707.10,932 V1026" stroke="#e4e7e9" stroke-width="1"/>
<path d="M1751.00,932 V1026" stroke="#e4e7e9" stroke-width="1"/>
<path d="M1794.90,932 V1026" stroke="#e4e7e9" stroke-width="1"/>
<path d="M1838.80,932 V1026" stroke="#e4e7e9" stroke-width="1"/>
<path d="M1882.70,932 V1026" stroke="#e4e7e9" stroke-width="1"/>
<path d="M1926.60,932 V1026" stroke="#e4e7e9" stroke-width="1"/>
<path d="M1970.50,932 V1026" stroke="#e4e7e9" stroke-width="1"/>
<path d="M2014.40,932 V1026" stroke="#e4e7e9" stroke-width="1"/>
<path d="M2058.30,932 V1026" stroke="#e4e7e9" stroke-width="1"/>
<clipPath id="uc"><rect x="1057" y="932" width="1033" height="93.5"/></clipPath><g clip-path="url(#uc)">
<circle cx="1531.20" cy="976.2" r="6" fill="#c0d3d0"/>
<circle cx="1575.10" cy="976.2" r="6" fill="#c0d3d0"/>
<circle cx="1619.00" cy="976.2" r="6.2" fill="#c0d3d0"/>
<circle cx="1662.90" cy="976.2" r="12.8" fill="#c0d3d0"/>
<circle cx="1706.80" cy="976.2" r="14.5" fill="#3dd5d1"/>
<circle cx="1750.70" cy="976.2" r="12.8" fill="#3dd5d1"/>
<circle cx="1794.60" cy="976.2" r="16" fill="#c0d3d0"/>
<circle cx="1838.50" cy="976.2" r="11.2" fill="#c0d3d0"/>
<circle cx="1882.40" cy="976.2" r="9.5" fill="#c0d3d0"/>
<circle cx="1926.30" cy="976.2" r="9.5" fill="#c0d3d0"/>
<circle cx="1970.20" cy="976.2" r="6.4" fill="#c0d3d0"/>
<circle cx="2014.10" cy="976.2" r="6.4" fill="#c0d3d0"/>
<circle cx="1223.90" cy="1021.7" r="6.4" fill="#c0d3d0"/>
<circle cx="1487.30" cy="1021.7" r="6.4" fill="#c0d3d0"/>
<circle cx="1531.20" cy="1021.7" r="6.4" fill="#c0d3d0"/>
<circle cx="1575.10" cy="1021.7" r="6" fill="#c0d3d0"/>
<circle cx="1619.00" cy="1021.7" r="12.8" fill="#c0d3d0"/>
<circle cx="1662.90" cy="1021.7" r="14.5" fill="#c0d3d0"/>
<circle cx="1706.80" cy="1021.7" r="16" fill="#3dd5d1"/>
<circle cx="1750.70" cy="1021.7" r="16" fill="#3dd5d1"/>
<circle cx="1794.60" cy="1021.7" r="11" fill="#c0d3d0"/>
<circle cx="1838.50" cy="1021.7" r="9.5" fill="#c0d3d0"/>
<circle cx="1882.40" cy="1021.7" r="9.5" fill="#c0d3d0"/>
<circle cx="1926.30" cy="1021.7" r="6.4" fill="#c0d3d0"/>
<circle cx="1970.20" cy="1021.7" r="6.4" fill="#c0d3d0"/>
</g></svg>
<div class="b" style="left:2090.00px;top:102.50px;width:315.00px;height:922.50px;background:#f3f9fd;border-left:1px solid #dfe4e8;border-radius:0 0 7px 0;"></div>
<div class="b" style="left:2090.00px;top:153.00px;width:315.00px;height:1.30px;background:#dfe5ea;"></div>
<div class="b" style="left:2090.00px;top:223.50px;width:315.00px;height:1.30px;background:#dfe5ea;"></div>
<svg width="2409" height="1029" viewBox="0 0 2409 1029" fill="none" stroke="#4d555b" stroke-width="1.1" stroke-linecap="round" stroke-linejoin="round">
<path d="M2125.6,124.6 L2121.8,128.3 L2125.6,132 M2132.6,124.6 L2136.4,128.3 L2132.6,132 M2130.4,122.6 L2127.8,134"/>
<rect x="2165.3" y="121.9" width="13.2" height="12.8" rx="1"/><path d="M2168,129.6 L2170.6,127.4 L2172.8,129.2 L2176,126.6"/>
<rect x="2208.4" y="121.9" width="5" height="5"/><rect x="2216" y="121.9" width="5" height="5"/><rect x="2208.4" y="129.5" width="5" height="5"/><rect x="2216" y="129.5" width="5" height="5"/>
<path d="M2257.4,122.2 H2251.2 V134.6 H2263.6 V128.4 M2259.4,121.6 H2264.2 V126.4 M2264,121.8 L2257.4,128.4"/>
<circle cx="2299.9" cy="128.3" r="6.9"/><path d="M2297.7,126.6 A2.25,2.25 0 1 1 2299.9,128.9 V130.2 M2299.9,132.2 V132.4"/>
</svg>
<div class="t" style="left:2113.00px;top:168px;font-size:16px;line-height:17px;font-weight:700;color:#1f2428;letter-spacing:0.419px;">99.9999%</div>
<div class="t" style="left:2228.20px;top:168px;font-size:16px;line-height:17px;font-weight:700;color:#1f2428;letter-spacing:0.112px;">14,367</div>
<div class="t" style="left:2330.00px;top:168px;font-size:16px;line-height:17px;font-weight:700;color:#e0522e;letter-spacing:0.652px;">539</div>
<div class="t" style="left:2113.00px;top:193px;font-size:13px;line-height:15px;color:#69747c;letter-spacing:0.464px;">Uptime</div>
<div class="t" style="left:2228.00px;top:193px;font-size:13px;line-height:15px;color:#69747c;letter-spacing:-0.195px;">RPM</div>
<div class="t" style="left:2330.00px;top:193px;font-size:13px;line-height:15px;color:#69747c;letter-spacing:0.022px;">Errors</div>
<div class="t" style="left:2113.60px;top:250px;font-size:13px;line-height:15px;font-weight:700;color:#1f2428;letter-spacing:0.029px;">App activity</div>
<div class="t" style="left:2113.60px;top:277px;font-size:13px;line-height:15px;color:#1f2428;letter-spacing:0.308px;">This provides throughput and error rates for</div>
<div class="t" style="left:2113.60px;top:298px;font-size:13px;line-height:15px;color:#1f2428;letter-spacing:0.325px;">four services that compose the app. Activity</div>
<div class="t" style="left:2113.60px;top:319px;font-size:13px;line-height:15px;color:#1f2428;letter-spacing:0.328px;">throughout the workday is pretty busy and</div>
<div class="t" style="left:2113.60px;top:337px;font-size:13px;line-height:15px;color:#1f2428;letter-spacing:0.336px;">would be an indicator that something is</div>
<div class="t" style="left:2113.60px;top:358px;font-size:13px;line-height:15px;color:#1f2428;letter-spacing:0.296px;">wrong.</div>
<div class="t" style="left:2113.60px;top:401px;font-size:13px;line-height:15px;font-weight:700;color:#1f2428;letter-spacing:-0.027px;">Requests volume by channel</div>
<div class="t" style="left:2113.60px;top:428px;font-size:13px;line-height:15px;color:#1f2428;letter-spacing:0.279px;">This shows request volume by inbound</div>
<div class="t" style="left:2113.60px;top:448px;font-size:13px;line-height:15px;color:#1f2428;letter-spacing:0.336px;">channel.</div>
<svg width="2409" height="1029" viewBox="0 0 2409 1029">
<defs><linearGradient id="p2bl" x1="0" y1="0" x2="1" y2="1"><stop offset="0" stop-color="#86ccfb"/><stop offset="1" stop-color="#d6edfd"/></linearGradient></defs>
<path d="M2199.80,554.90 L2132.20,554.90 A67.6,67.6 0 0 1 2199.80,487.30 Z" fill="#fda68b" stroke="#ea957b" stroke-width="1"/>
<path d="M2203.00,554.90 L2203.00,487.30 A67.6,67.6 0 0 1 2270.60,554.90 Z" fill="#a1efea" stroke="#86ded8" stroke-width="1"/>
<path d="M2203.00,558.10 L2270.60,558.10 A67.6,67.6 0 0 1 2203.00,625.70 Z" fill="url(#p2bl)" stroke="#86c3ec" stroke-width="1"/>
<path d="M2199.80,558.10 L2199.80,625.70 A67.6,67.6 0 0 1 2152.00,605.90 Z" fill="#acdc9a" stroke="#83c56e" stroke-width="1"/>
<path d="M2191.10,559.90 L2143.30,607.70 A67.6,67.6 0 0 1 2123.50,559.90 Z" fill="#7445d8"/>
</svg>
<div class="t" style="left:2161.39px;top:520px;font-size:10px;line-height:11px;color:#c5745d;">25%</div>
<div class="t" style="left:2221.39px;top:520px;font-size:10px;line-height:11px;color:#5fa9a7;">25%</div>
<div class="t" style="left:2221.39px;top:580px;font-size:10px;line-height:11px;color:#6b9cbb;">25%</div>
<div class="t" style="left:2137.70px;top:570px;font-size:10px;line-height:11px;font-weight:700;color:#ffffff;letter-spacing:-0.089px;">12.5%</div>
<div class="t" style="left:2167.85px;top:596px;font-size:10px;line-height:11px;color:#79a866;letter-spacing:-0.214px;">12.5%</div>
<div class="b" style="left:2302.40px;top:489.90px;width:11.20px;height:11.20px;border-radius:50%;background:#a1efea;"></div>
<div class="t" style="left:2319.70px;top:490px;font-size:11px;line-height:12px;color:#69747c;letter-spacing:0.155px;">Direct</div>
<div class="b" style="left:2302.40px;top:509.60px;width:11.20px;height:11.20px;border-radius:50%;background:#fda68b;"></div>
<div class="t" style="left:2319.70px;top:509px;font-size:11px;line-height:12px;color:#69747c;letter-spacing:0.219px;">Mobile</div>
<div class="b" style="left:2302.40px;top:529.40px;width:11.20px;height:11.20px;border-radius:50%;background:#a9d8fb;"></div>
<div class="t" style="left:2319.70px;top:529px;font-size:11px;line-height:12px;color:#69747c;letter-spacing:0.402px;">Integration</div>
<div class="b" style="left:2302.40px;top:549.00px;width:11.20px;height:11.20px;border-radius:50%;background:#acdc9a;"></div>
<div class="t" style="left:2319.70px;top:549px;font-size:11px;line-height:12px;color:#69747c;letter-spacing:0.207px;">Public API</div>
<div class="b" style="left:2302.40px;top:568.60px;width:11.20px;height:11.20px;border-radius:50%;background:#7445d8;"></div>
<div class="t" style="left:2319.70px;top:568px;font-size:11px;line-height:12px;color:#69747c;letter-spacing:0.207px;">Enterprise</div>
<div class="t" style="left:2113.60px;top:658px;font-size:13px;line-height:15px;font-weight:700;color:#1f2428;letter-spacing:0.047px;">Request trace for key activity</div>
<div class="t" style="left:2113.60px;top:684px;font-size:13px;line-height:15px;color:#1f2428;letter-spacing:0.239px;">This shows a trace for the Transaction</div>
<div class="t" style="left:2113.60px;top:705px;font-size:13px;line-height:15px;color:#1f2428;letter-spacing:0.348px;">activity. Every user must do this multiple</div>
<div class="t" style="left:2113.60px;top:726px;font-size:13px;line-height:15px;color:#1f2428;letter-spacing:0.258px;">times a day, so delays can indicate that</div>
<div class="t" style="left:2113.60px;top:745px;font-size:13px;line-height:15px;color:#1f2428;letter-spacing:0.327px;">something is wrong.</div>
<div class="t" style="left:2115.10px;top:779px;font-size:12px;line-height:14px;font-weight:700;color:#2c3338;letter-spacing:-0.338px;">transaction</div>
<div class="b" style="left:2184.80px;top:784.00px;width:192.10px;height:8.00px;background:#3fd2cb;"></div>
<div class="t" style="left:2131.05px;top:799px;font-size:12px;line-height:14px;color:#525c63;">estimate</div>
<div class="b" style="left:2184.80px;top:803.00px;width:27.60px;height:8.00px;background:#1a94f2;"></div>
<div class="t" style="left:2117.77px;top:819px;font-size:12px;line-height:14px;color:#525c63;">description</div>
<div class="b" style="left:2184.80px;top:823.00px;width:192.10px;height:8.00px;background:#1a94f2;"></div>
<div class="t" style="left:2207.98px;top:839px;font-size:12px;line-height:14px;color:#525c63;">name</div>
<div class="b" style="left:2248.70px;top:844.00px;width:128.20px;height:8.00px;background:#1a94f2;"></div>
<div class="t" style="left:2187.66px;top:859px;font-size:12px;line-height:14px;color:#525c63;">summary</div>
<div class="b" style="left:2248.70px;top:864.00px;width:128.20px;height:8.00px;background:#1a94f2;"></div>
<div class="t" style="left:2228.66px;top:879px;font-size:12px;line-height:14px;color:#525c63;">id</div>
<div class="b" style="left:2248.70px;top:883.00px;width:92.30px;height:8.00px;background:#1a94f2;"></div>
<div class="t" style="left:2205.30px;top:899px;font-size:12px;line-height:14px;color:#525c63;">length</div>
<div class="b" style="left:2248.70px;top:903.00px;width:36.70px;height:8.00px;background:#1a94f2;"></div>
<div class="t" style="left:2191.38px;top:918px;font-size:12px;line-height:14px;color:#525c63;">billingUrl</div>
<div class="b" style="left:2248.70px;top:923.00px;width:128.20px;height:8.00px;background:#1a94f2;"></div>
<div class="t" style="left:2166.32px;top:936px;font-size:12px;line-height:14px;color:#525c63;">invoiceCount</div>
<div class="b" style="left:2248.70px;top:940.00px;width:113.10px;height:8.00px;background:#1a94f2;"></div>
<div class="t" style="left:2206.31px;top:956px;font-size:12px;line-height:14px;color:#525c63;">value</div>
<div class="b" style="left:2248.70px;top:960.00px;width:82.30px;height:8.00px;background:#1a94f2;"></div>
<div class="t" style="left:2213.02px;top:975px;font-size:12px;line-height:14px;color:#525c63;">type</div>
<div class="b" style="left:2248.70px;top:980.00px;width:29.50px;height:8.00px;background:#1a94f2;"></div>
</div></body></html>
